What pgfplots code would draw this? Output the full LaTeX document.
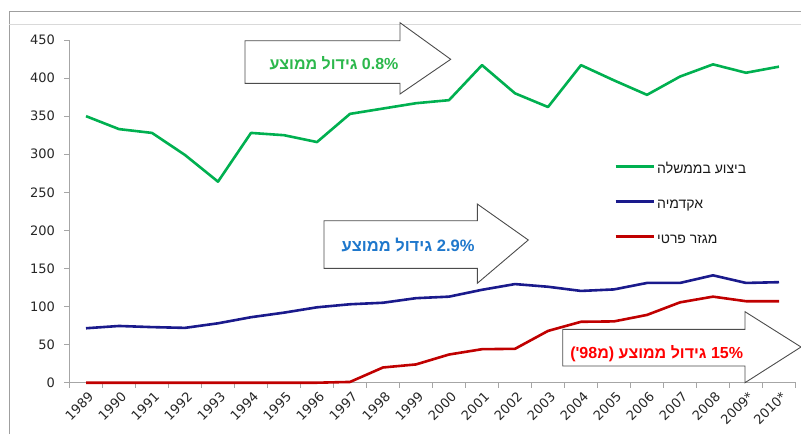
\documentclass[border=0pt]{standalone}
\usepackage{pgfplots}
\pgfplotsset{compat=1.18}
\usepackage{pgfplotstable}
\usepackage{fontspec}
\setmainfont{Liberation Sans}
\newfontfamily\tickfont{DejaVu Sans}
\newfontfamily\heb[Script=Hebrew]{Liberation Sans}
\TeXXeTstate=1
\definecolor{cgreen}{HTML}{00B050}
\definecolor{cblue}{HTML}{1A1A8C}
\definecolor{cred}{HTML}{C00000}
\definecolor{tgreen}{HTML}{2CB84C}
\definecolor{tblue}{HTML}{1F78CC}
\definecolor{tred}{HTML}{FF0000}
\definecolor{axgray}{HTML}{A6A6A6}
\pgfplotstableread{
idx green blue red
0 350 71.5 0
1 333 74.5 0
2 328 73 0
3 299 72 0
4 264 78 0
5 328 86 0
6 325 92 0
7 316 99 0
8 353 103 1
9 360 105 20
10 367 111 24
11 371 113 37
12 417 122 44
13 380 129.5 44.5
14 362 126 68
15 417 120.5 80
16 397 122.5 80.5
17 378 131 89
18 402 131 105.5
19 418 141 113
20 407 131 107
21 415 132 107
}\datatable
\begin{document}
\begin{tikzpicture}
\path[use as bounding box] (0pt,0pt) rectangle (801pt,-434pt);
\draw[gray!75, line width=1.3pt] (9.3pt,-434pt) -- (9.3pt,-11.7pt) -- (801pt,-11.7pt);
\draw[gray!30, line width=1pt] (9.3pt,-24.3pt) -- (801pt,-24.3pt);
\begin{axis}[
  at={(69.5pt,-382.7pt)}, anchor=south west,
  scale only axis, width=726pt, height=342.7pt,
  xmin=-0.5, xmax=21.5, ymin=0, ymax=450,
  axis x line*=bottom, axis y line*=left,
  axis line style={-, draw=axgray, line width=1.2pt},
  clip=false,
  xtick={0,...,21},
  xticklabels={1989,1990,1991,1992,1993,1994,1995,1996,1997,1998,1999,2000,2001,2002,2003,2004,2005,2006,2007,2008,2009*,2010*},
  major x tick style={draw=none},
  minor xtick={-0.5,0.5,...,21.5},
  minor tick length=5pt,
  minor x tick style={draw=axgray, line width=1pt},
  ytick={0,50,...,450},
  tick align=outside,
  major tick length=5pt,
  y tick style={draw=axgray, line width=1pt},
  /pgf/number format/assume math mode=true,
  ticklabel style={font=\tickfont\fontsize{13}{15}\selectfont, text=black!85},
  xticklabel style={rotate=45, anchor=north east, inner sep=1pt, yshift=-2pt},
  yticklabel style={xshift=-6pt},
  legend style={at={(rel axis cs:0.746,0.6455)}, anchor=north west, draw=none, fill=none,
    font=\heb\fontsize{14}{16}\selectfont, text=black!90, row sep=22pt,
    nodes={inner sep=0pt, text height=10pt, text depth=3pt}},
  legend cell align=left,
  legend image code/.code={\draw[#1] (0pt,3.5pt) -- (38pt,3.5pt);},
]
\addplot[cgreen, line width=2.6pt, line join=round] table[x=idx, y=green] {\datatable};
\addlegendentry{\,\beginR ביצוע בממשלה\endR}
\addplot[cblue, line width=2.6pt, line join=round] table[x=idx, y=blue] {\datatable};
\addlegendentry{\,\beginR אקדמיה\endR}
\addplot[cred, line width=2.6pt, line join=round] table[x=idx, y=red] {\datatable};
\addlegendentry{\,\beginR מגזר פרטי\endR}
\end{axis}
% annotation arrows
\draw[black!70, fill=white, line width=0.9pt]
  (245pt,-40.7pt) -- (400pt,-40.7pt) -- (400pt,-22.7pt) -- (450.7pt,-59.3pt)
  -- (400pt,-94pt) -- (400pt,-83.3pt) -- (245pt,-83.3pt) -- cycle;
\node[font=\heb\bfseries\fontsize{16}{18}\selectfont, text=tgreen] at (334pt,-63pt)
  {\beginR\beginL 0.8\%\endL{} גידול ממוצע\endR};
\draw[black!70, fill=white, line width=0.9pt]
  (324pt,-220.7pt) -- (477.3pt,-220.7pt) -- (477.3pt,-204pt) -- (528.3pt,-240pt)
  -- (477.3pt,-283.3pt) -- (477.3pt,-268.3pt) -- (324pt,-268.3pt) -- cycle;
\node[font=\heb\bfseries\fontsize{16.5}{18}\selectfont, text=tblue] at (408pt,-245pt)
  {\beginR\beginL 2.9\%\endL{} גידול ממוצע\endR};
\draw[black!70, fill=white, line width=0.9pt]
  (562.7pt,-329.3pt) -- (745pt,-329.3pt) -- (745pt,-311.7pt) -- (801pt,-347pt)
  -- (745pt,-382.7pt) -- (745pt,-366pt) -- (562.7pt,-366pt) -- cycle;
\node[font=\heb\bfseries\fontsize{16}{18}\selectfont, text=tred] at (656.7pt,-353.3pt)
  {\beginR\beginL 15\%\endL{} גידול ממוצע (מ98')\endR};
\end{tikzpicture}
\end{document}
